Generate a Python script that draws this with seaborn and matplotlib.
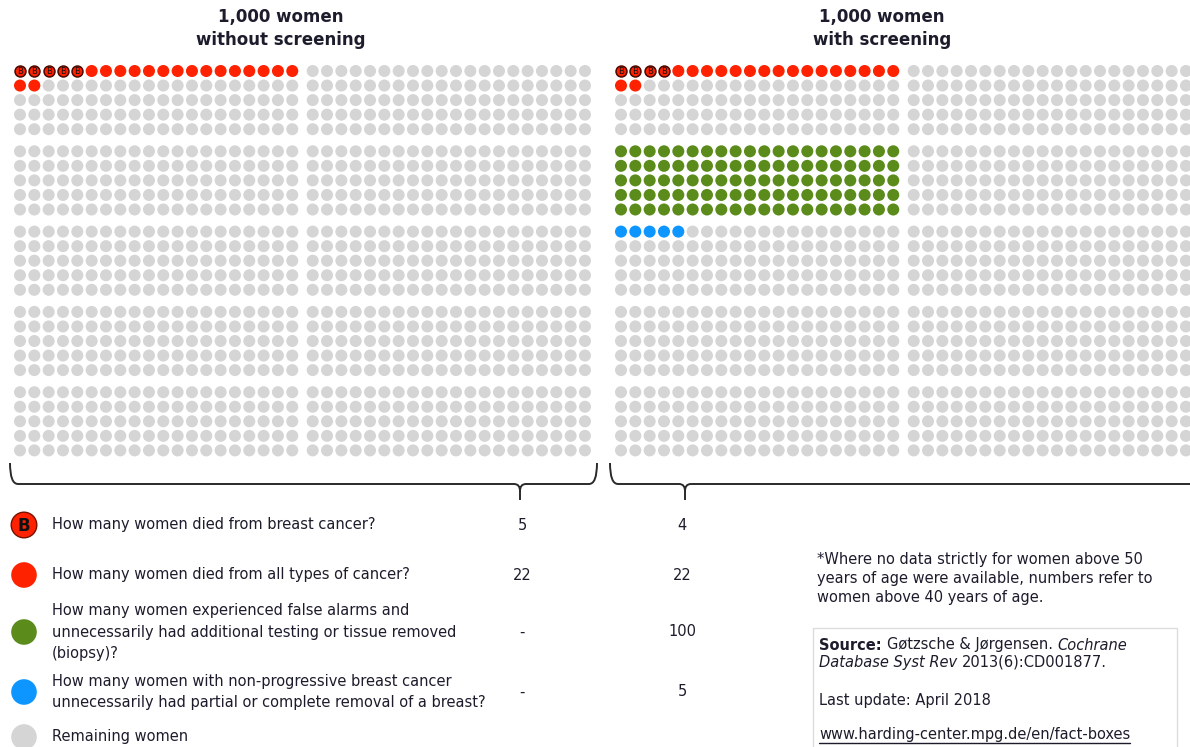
import numpy as np
import pandas as pd
import seaborn as sns
import matplotlib
matplotlib.use("Agg")
import matplotlib.pyplot as plt
from matplotlib.path import Path
from matplotlib.patches import PathPatch, Rectangle

sns.set_theme(style="white")
plt.rcParams['font.family'] = ['DejaVu Sans']

GROUPS = ["1,000 women\nwithout screening", "1,000 women\nwith screening"]
BREAST_DEATHS = [5, 4]
CANCER_DEATHS = [22, 22]
FALSE_ALARMS = [0, 100]
MASTECTOMIES = [0, 5]
QUESTIONS = [
    "How many women died from breast cancer?",
    "How many women died from all types of cancer?",
    "How many women experienced false alarms and\nunnecessarily had additional testing or tissue removed\n(biopsy)?",
    "How many women with non-progressive breast cancer\nunnecessarily had partial or complete removal of a breast?",
    "Remaining women",
]
FOOTNOTE = ("*Where no data strictly for women above 50\n"
            "years of age were available, numbers refer to\n"
            "women above 40 years of age.")

PALETTE = {"breast": "#ff2200", "cancer": "#ff2200", "false": "#5b8c1b",
           "mast": "#0d96ff", "rest": "#d5d5d5"}
TXT = "#1c1c2c"
FS = 10.5

# grid geometry (pixels)
X0, STEP, BLOCK_DX, PANEL_DX = 20, 14.33, 292.7, 601
Y0, ROW_DY, GROUP_DY = 71, 14.55, 80.3


def panel_frame(p):
    cats = np.array(["rest"] * 1000, dtype=object)
    cats[0:CANCER_DEATHS[p]] = "cancer"
    cats[0:BREAST_DEATHS[p]] = "breast"
    cats[100:100 + FALSE_ALARMS[p]] = "false"
    cats[200:200 + MASTECTOMIES[p]] = "mast"
    idx = np.arange(1000)
    block, i = idx // 100, idx % 100
    x = X0 + p * PANEL_DX + (block // 5) * BLOCK_DX + (i % 20) * STEP
    y = Y0 + (block % 5) * GROUP_DY + (i // 20) * ROW_DY
    return pd.DataFrame({"x": x, "y": y, "cat": cats, "panel": p})


dots = pd.concat([panel_frame(p) for p in range(2)], ignore_index=True)

fig = plt.figure(figsize=(11.9, 7.47), dpi=100)
ax = fig.add_axes([0, 0, 1, 1])
ax.set_xlim(0, 1190)
ax.set_ylim(747, 0)
ax.axis("off")

plain = dots[dots["cat"] != "breast"]
sns.scatterplot(data=plain, x="x", y="y", hue="cat", palette=PALETTE,
                s=75, linewidth=0, legend=False, ax=ax)
bdots = dots[dots["cat"] == "breast"]
sns.scatterplot(data=bdots, x="x", y="y", color=PALETTE["breast"],
                s=62, edgecolor="#4a0800", linewidth=1.1, legend=False, ax=ax)
for _, r in bdots.iterrows():
    ax.text(r.x, r.y + 0.5, "B", ha="center", va="center", fontsize=6,
            color="#111111")

# titles
for p, g in enumerate(GROUPS):
    ax.text(281 + p * PANEL_DX, 28.5, g, ha="center", va="center",
            fontsize=12, fontweight="bold", color=TXT, linespacing=1.35)


# curly brackets
def bracket(x_left, x_right, x_tick):
    yt, yb, ytip = 463, 484, 500
    verts = [(x_left, yt), (x_left, yb), (x_left + 8, yb),
             (x_tick - 6, yb), (x_tick, yb), (x_tick, yb + 7),
             (x_tick, ytip)]
    codes = [Path.MOVETO, Path.CURVE3, Path.CURVE3,
             Path.LINETO, Path.CURVE3, Path.CURVE3, Path.LINETO]
    verts += [(x_tick, yb + 7), (x_tick, yb), (x_tick + 6, yb),
              (x_right - 8, yb), (x_right, yb), (x_right, yt)]
    codes += [Path.MOVETO, Path.CURVE3, Path.CURVE3,
              Path.LINETO, Path.CURVE3, Path.CURVE3]
    ax.add_patch(PathPatch(Path(verts, codes), fill=False, lw=1.4,
                           edgecolor="#2a2a2a"))


bracket(10, 597, 520)
bracket(610, 1205, 685)

# legend table
row_y = [525, 575, 632, 692, 737]
leg = pd.DataFrame({"x": 24, "y": row_y,
                    "cat": ["breast", "cancer", "false", "mast", "rest"]})
sns.scatterplot(data=leg, x="x", y="y", hue="cat", palette=PALETTE,
                s=340, linewidth=0, legend=False, ax=ax)
ax.scatter([24], [row_y[0]], s=340, facecolor="none", edgecolor="#7a1000",
           linewidth=1.0)
ax.text(24, row_y[0] + 1, "B", ha="center", va="center", fontsize=12,
        fontweight="bold", color="#111111")

values = [BREAST_DEATHS, CANCER_DEATHS, FALSE_ALARMS, MASTECTOMIES]
for k, q in enumerate(QUESTIONS):
    ax.text(52, row_y[k], q, ha="left", va="center", fontsize=FS,
            color=TXT, linespacing=1.55)
    if k < len(values):
        for p, xv in enumerate([522, 682]):
            v = values[k][p]
            ax.text(xv, row_y[k], str(v) if v else "-", ha="center",
                    va="center", fontsize=FS, color=TXT)

ax.text(817, 578.5, FOOTNOTE, ha="left", va="center", fontsize=FS,
        color=TXT, linespacing=1.36)

# source box
ax.add_patch(Rectangle((813, 628), 364, 130, fill=False, lw=1,
                       edgecolor="#dddddd"))
renderer = fig.canvas.get_renderer()


def runs(x, y, parts):
    for s, style in parts:
        t = ax.text(x, y, s, ha="left", va="center", fontsize=FS,
                    color=TXT, **style)
        x += t.get_window_extent(renderer=renderer).width
    return x


runs(819, 645, [("Source: ", {"fontweight": "bold"}),
                ("Gøtzsche & Jørgensen. ", {}),
                ("Cochrane", {"fontstyle": "italic"})])
runs(819, 662, [("Database Syst Rev ", {"fontstyle": "italic"}),
                ("2013(6):CD001877.", {})])
runs(819, 700, [("Last update: April 2018", {})])
x_end = runs(819, 735, [("www.harding-center.mpg.de/en/fact-boxes", {})])
ax.plot([819, x_end], [742.5, 742.5], color=TXT, lw=1)

fig.savefig("out.png", dpi=100)
